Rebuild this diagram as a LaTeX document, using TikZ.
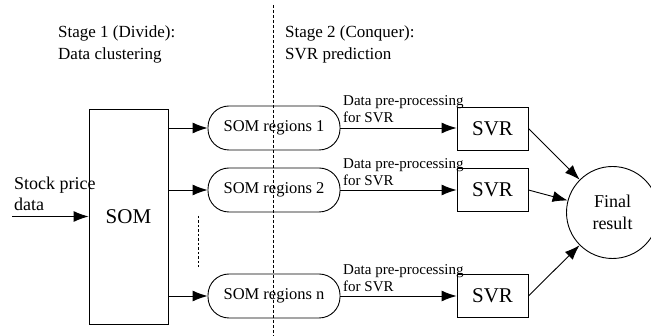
\documentclass[tikz,border=0pt]{standalone}
\usepackage{fontspec}
\setmainfont{Liberation Serif}
\usetikzlibrary{arrows.meta}
\begin{document}
\begin{tikzpicture}[x=1pt,y=-1pt,
  every node/.style={inner sep=0pt},
  stagetxt/.style={anchor=base west,align=left,font=\fontsize{17}{22}\selectfont},
  labeltxt/.style={anchor=base west,align=left,font=\fontsize{15}{17}\selectfont},
  regionbox/.style={draw,line width=0.9pt,rounded corners=21pt,minimum width=132pt,minimum height=44pt,font=\fontsize{16.5}{20}\selectfont},
  svrbox/.style={draw,line width=0.9pt,minimum width=71pt,minimum height=43pt,font=\fontsize{21}{24}\selectfont},
  arr/.style={line width=0.9pt,-{Latex[length=15pt,width=11pt]}},
  divider/.style={line width=0.8pt,dash pattern=on 3pt off 2pt}
]
\useasboundingbox (0,0) rectangle (651,336);

% divider
\coordinate (dtop) at (273,5);
\coordinate (dbot) at (273,336);
\draw[divider] (dtop) -- (dbot);

% stage titles (base = baseline of last line)
\node[stagetxt] (st1) at (58,60) {Stage 1 (Divide):\\Data clustering};
\node[stagetxt] (st2) at (285,60) {Stage 2 (Conquer):\\SVR prediction};

% SOM
\node[draw,line width=0.9pt,minimum width=79pt,minimum height=215pt,font=\fontsize{21}{24}\selectfont] (som) at (128.5,216.5) {SOM};

% input
\coordinate (in) at (12,216.5);
\node[anchor=base west,align=left,font=\fontsize{18}{21}\selectfont] (stock) at (14,211) {Stock price\\data};
\draw[arr] (in) -- (som.west);

% regions
\node[regionbox] (r1) at (274,128) {SOM regions 1};
\node[regionbox] (r2) at (274,190) {SOM regions 2};
\node[regionbox] (rn) at (274,296) {SOM regions n};

\draw[arr] (som.east |- r1.west) -- (r1.west);
\draw[arr] (som.east |- r2.west) -- (r2.west);
\draw[arr] (som.east |- rn.west) -- (rn.west);

% vertical dots
\coordinate (vd1) at (198,216);
\coordinate (vd2) at (198,267);
\draw[line width=0.9pt,dash pattern=on 2.5pt off 2pt] (vd1) -- (vd2);

% SVR boxes
\node[svrbox] (s1) at (492.5,128.5) {SVR};
\node[svrbox] (s2) at (492.5,190) {SVR};
\node[svrbox] (sn) at (492.5,296) {SVR};

\draw[arr] (r1.east) -- (s1.west |- r1.east);
\draw[arr] (r2.east) -- (s2.west |- r2.east);
\draw[arr] (rn.east) -- (sn.west |- rn.east);

% labels
\node[labeltxt] (l1) at (343,123) {Data pre-processing\\for SVR};
\node[labeltxt] (l2) at (343,186) {Data pre-processing\\for SVR};
\node[labeltxt] (ln) at (343,291.5) {Data pre-processing\\for SVR};

% final
\node[draw,circle,line width=0.9pt,minimum size=92pt,align=center,font=\fontsize{18}{22}\selectfont] (fin) at (612.5,212.5) {Final\\result};

\draw[arr] (s1.east) -- (fin);
\draw[arr] (s2.east) -- (fin);
\draw[arr] (sn.east) -- (fin);
\end{tikzpicture}
\end{document}
